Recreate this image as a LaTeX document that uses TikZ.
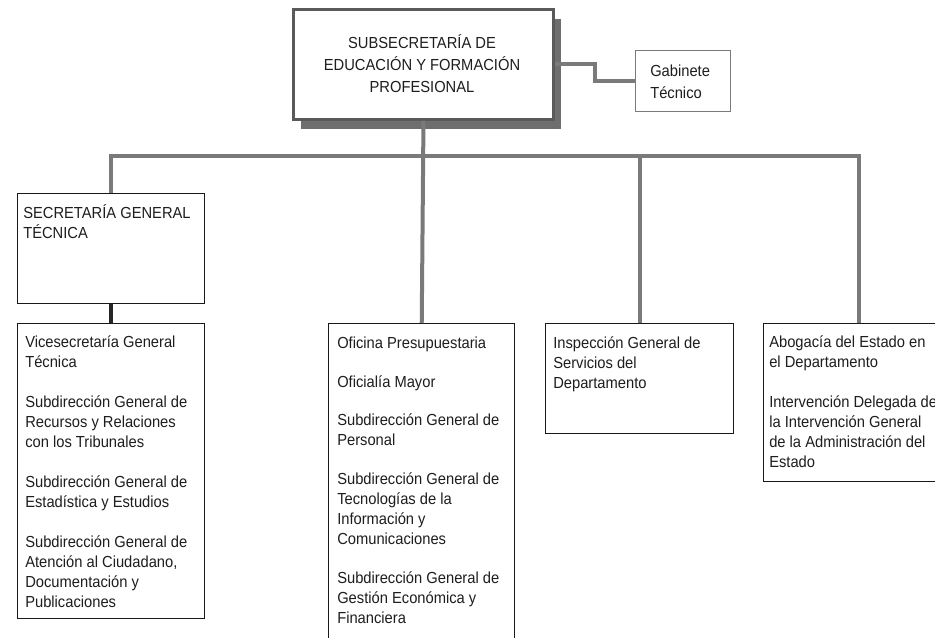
\documentclass[tikz,border=0pt]{standalone}
\usepackage{fontspec}
\setmainfont{Liberation Sans}[FakeStretch=0.92]
\usetikzlibrary{shadows}
\definecolor{conngray}{HTML}{7A7A7A}
\definecolor{topborder}{HTML}{5A5A5A}
\definecolor{shadowgray}{HTML}{6E6E6E}
\definecolor{txtcol}{HTML}{1E1E1E}
\tikzset{
  box/.style={draw=black!90, line width=1.1pt, fill=white, rectangle, inner sep=0pt, anchor=north west},
  conn/.style={draw=conngray, line width=3pt},
  darkconn/.style={draw=black!85, line width=3pt},
  txt/.style={text=txtcol, align=left, inner sep=0pt, anchor=base west, font=\fontsize{12pt}{15pt}\selectfont},
  toptxt/.style={text=txtcol, align=center, inner sep=0pt, anchor=base, font=\fontsize{12pt}{16.5pt}\selectfont},
}
\begin{document}
\begin{tikzpicture}[x=0.75pt,y=-0.75pt]
\useasboundingbox (0,0) rectangle (935,637);
\clip (0,0) rectangle (935,637);
\fill[white] (0,0) rectangle (935,637);
% boxes
\node[box, draw=topborder, line width=2.2pt, minimum width=260*0.75pt, minimum height=110*0.75pt,
      drop shadow={shadow xshift=6pt, shadow yshift=-7pt, fill=shadowgray, opacity=1}] (top) at (292,8) {};
\node[box, draw=conngray, line width=1pt, minimum width=95*0.75pt, minimum height=61*0.75pt] (gab) at (635,50) {};
\node[box, minimum width=187*0.75pt, minimum height=110*0.75pt] (sgt) at (17,193) {};
\node[box, minimum width=187*0.75pt, minimum height=295*0.75pt] (left) at (17,323) {};
\node[box, minimum width=186*0.75pt, minimum height=330*0.75pt] (ofi) at (328,323) {};
\node[box, minimum width=188*0.75pt, minimum height=110*0.75pt] (insp) at (545,323) {};
\node[box, minimum width=190*0.75pt, minimum height=158*0.75pt] (abog) at (763,323) {};
% connectors
\coordinate (J) at (422,156);
\draw[conn] (top.south) -- (ofi.north);
\draw[conn] (sgt.north) |- (J) -| (abog.north);
\draw[conn] (insp.north) -- (insp.north |- J);
\draw[conn] (top.east) -- ++(40,0) |- (gab.west);
\draw[darkconn] (sgt.south) -- (left.north);
% texts (base anchor = baseline of the last line)
\node[toptxt] (ttop) at (422,92) {SUBSECRETARÍA DE\\EDUCACIÓN Y FORMACIÓN\\PROFESIONAL};
\node[txt, font=\fontsize{12pt}{16.5pt}\selectfont] (tgab) at (650,98) {Gabinete\\Técnico};
\node[txt] (tsgt) at (23,238) {SECRETARÍA GENERAL\\TÉCNICA};
\node[txt] (tleft) at (25,607) {Vicesecretaría General\\Técnica\\[15pt]Subdirección General de\\Recursos y Relaciones\\con los Tribunales\\[15pt]Subdirección General de\\Estadística y Estudios\\[15pt]Subdirección General de\\Atención al Ciudadano,\\Documentación y\\Publicaciones};
\node[txt] (tofi) at (337,623) {Oficina Presupuestaria\\[14pt]Oficialía Mayor\\[14pt]Subdirección General de\\Personal\\[14pt]Subdirección General de\\Tecnologías de la\\Información y\\Comunicaciones\\[14pt]Subdirección General de\\Gestión Económica y\\Financiera};
\node[txt] (tinsp) at (553,388) {Inspección General de\\Servicios del\\Departamento};
\node[txt] (tabog) at (769,467) {Abogacía del Estado en\\el Departamento\\[15pt]Intervención Delegada de\\la Intervención General\\de la Administración del\\Estado};
\end{tikzpicture}
\end{document}
